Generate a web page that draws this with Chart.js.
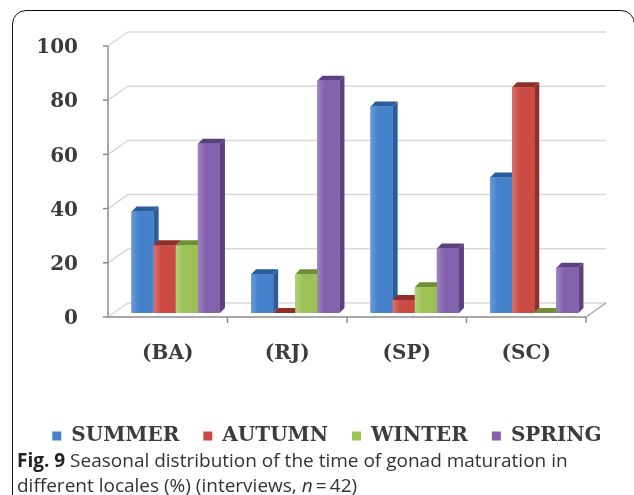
<!DOCTYPE html>
<html>
<head>
<meta charset="utf-8">
<script src="https://cdn.jsdelivr.net/npm/chart.js@4.4.1/dist/chart.umd.min.js"></script>
<style>
  body { margin:0; background:#fff; width:634px; height:495px; overflow:hidden; position:relative; font-family:"Open Sans", sans-serif; }
  #frame { position:absolute; left:12px; top:10px; width:623px; height:520px; border:1.5px solid #111; border-radius:14px; box-sizing:border-box; }
  #wrap { position:absolute; left:20px; top:0; width:614px; height:458px; }
  #cap { position:absolute; left:17px; top:448px; font-size:19px; line-height:25px; color:#333; white-space:nowrap; }
  #cap b { color:#222; }
</style>
</head>
<body>
<div id="frame"></div>
<div id="wrap"><canvas id="seasonChart"></canvas></div>
<div id="cap"><b>Fig. 9</b> Seasonal distribution of the time of gonad maturation in<br>different locales (%) (interviews, <i>n</i>&thinsp;=&thinsp;42)</div>
<script>
var locales = ['(BA)', '(RJ)', '(SP)', '(SC)'];
var summer  = [37.5, 14.3, 76.2, 50.0];
var autumn  = [25.0, 0.0, 4.8, 83.3];
var winter  = [25.0, 14.3, 9.5, 0.0];
var spring  = [62.5, 85.7, 23.8, 16.7];
var yTicks  = [0, 20, 40, 60, 80, 100];

var colors = {
  SUMMER: ['#4681cb', '#2c5d9b', '#6a9ad6'],
  AUTUMN: ['#cc4a44', '#8e2f2b', '#d8736e'],
  WINTER: ['#9cc155', '#6f8f37', '#b5d27e'],
  SPRING: ['#8262ad', '#5a4280', '#9d84c0']
};

var serif = '"DejaVu Serif", "Liberation Serif", serif';
var textCol = '#3c3c3c';

// fake 3d: walls behind, bars with top + side faces
var FRONT = {dx: -8, dy: 4}, BACK = {dx: 12, dy: -10}, D = 5;

var depth3d = {
  id: 'depth3d',
  beforeDatasetsDraw: function(chart) {
    var ctx = chart.ctx, a = chart.chartArea, ys = chart.scales.y;
    ctx.save();
    // back grid lines
    ctx.strokeStyle = '#d9d9d9';
    ctx.lineWidth = 1.5;
    yTicks.forEach(function(v) {
      var py = ys.getPixelForValue(v);
      ctx.beginPath();
      ctx.moveTo(a.left + FRONT.dx, py + FRONT.dy);
      ctx.lineTo(a.left + BACK.dx, py + BACK.dy);
      ctx.lineTo(a.right + BACK.dx, py + BACK.dy);
      ctx.stroke();
    });
    // floor right edge
    var p0 = ys.getPixelForValue(0);
    ctx.strokeStyle = '#a6a6a6';
    ctx.beginPath();
    ctx.moveTo(a.right + FRONT.dx, p0 + FRONT.dy);
    ctx.lineTo(a.right + BACK.dx, p0 + BACK.dy);
    ctx.stroke();
    // front axes
    ctx.strokeStyle = '#8c8c8c';
    ctx.beginPath();
    ctx.moveTo(a.left + FRONT.dx, ys.getPixelForValue(100) + FRONT.dy);
    ctx.lineTo(a.left + FRONT.dx, p0 + FRONT.dy);
    ctx.lineTo(a.right + FRONT.dx, p0 + FRONT.dy);
    ctx.stroke();
    yTicks.forEach(function(v) {
      var py = ys.getPixelForValue(v) + FRONT.dy;
      ctx.beginPath();
      ctx.moveTo(a.left + FRONT.dx - 5, py);
      ctx.lineTo(a.left + FRONT.dx, py);
      ctx.stroke();
    });
    var step = (a.right - a.left) / locales.length;
    for (var k = 1; k <= locales.length; k++) {
      var px = a.left + k * step + FRONT.dx;
      ctx.beginPath();
      ctx.moveTo(px, p0 + FRONT.dy);
      ctx.lineTo(px, p0 + FRONT.dy + 6);
      ctx.stroke();
    }
    ctx.restore();
  },
  afterDatasetsDraw: function(chart) {
    var ctx = chart.ctx;
    ctx.save();
    for (var j = 0; j < locales.length; j++) {
      chart.data.datasets.forEach(function(ds, i) {
        var el = chart.getDatasetMeta(i).data[j];
        var c = colors[ds.label];
        var l = el.x - el.width / 2, r = el.x + el.width / 2, t = el.y, b = el.base;
        // side
        ctx.fillStyle = c[1];
        ctx.beginPath();
        ctx.moveTo(r, t); ctx.lineTo(r + D, t - D); ctx.lineTo(r + D, b - D); ctx.lineTo(r, b);
        ctx.closePath(); ctx.fill();
        // top
        ctx.beginPath();
        ctx.moveTo(l, t); ctx.lineTo(l + D, t - D); ctx.lineTo(r + D, t - D); ctx.lineTo(r, t);
        ctx.closePath(); ctx.fill();
        // front
        var g = ctx.createLinearGradient(l, 0, r, 0);
        g.addColorStop(0, c[2]);
        g.addColorStop(0.35, c[0]);
        g.addColorStop(1, c[0]);
        ctx.fillStyle = g;
        ctx.fillRect(l, t, r - l, b - t);
      });
    }
    ctx.restore();
  }
};

var chartData = {
  labels: locales,
  datasets: [
    { label: 'SUMMER', data: summer, backgroundColor: colors.SUMMER[0] },
    { label: 'AUTUMN', data: autumn, backgroundColor: colors.AUTUMN[0] },
    { label: 'WINTER', data: winter, backgroundColor: colors.WINTER[0] },
    { label: 'SPRING', data: spring, backgroundColor: colors.SPRING[0] }
  ]
};

new Chart(document.getElementById('seasonChart'), {
  type: 'bar',
  data: chartData,
  plugins: [depth3d],
  options: {
    responsive: true,
    maintainAspectRatio: false,
    animation: false,
    categoryPercentage: 0.74,
    barPercentage: 1,
    borderWidth: 0,
    layout: { padding: { top: 40, right: 0, bottom: 2, left: 0 } },
    plugins: {
      tooltip: { enabled: false },
      legend: {
        position: 'bottom',
        labels: {
          boxWidth: 9, boxHeight: 9, padding: 24, color: textCol,
          font: { family: serif, size: 20, weight: 'bold' }
        }
      }
    },
    scales: {
      x: {
        grid: { display: false }, border: { display: false },
        ticks: { padding: 21, labelOffset: -8, color: textCol, font: { family: serif, size: 20, weight: 'bold' } },
        afterFit: function(s) { s.height = 89; }
      },
      y: {
        min: 0, max: 100,
        grid: { display: false }, border: { display: false },
        ticks: { stepSize: 20, padding: 30, labelOffset: 6, color: textCol, font: { family: serif, size: 20, weight: 'bold' } },
        afterFit: function(s) { s.width = 96; }
      },
      // empty right strip so the plot stops short of the frame
      yRight: {
        position: 'right', min: 0, max: 100,
        grid: { display: false }, border: { display: false },
        ticks: { display: false },
        afterFit: function(s) { s.width = 40; }
      }
    }
  }
});
</script>
</body>
</html>
